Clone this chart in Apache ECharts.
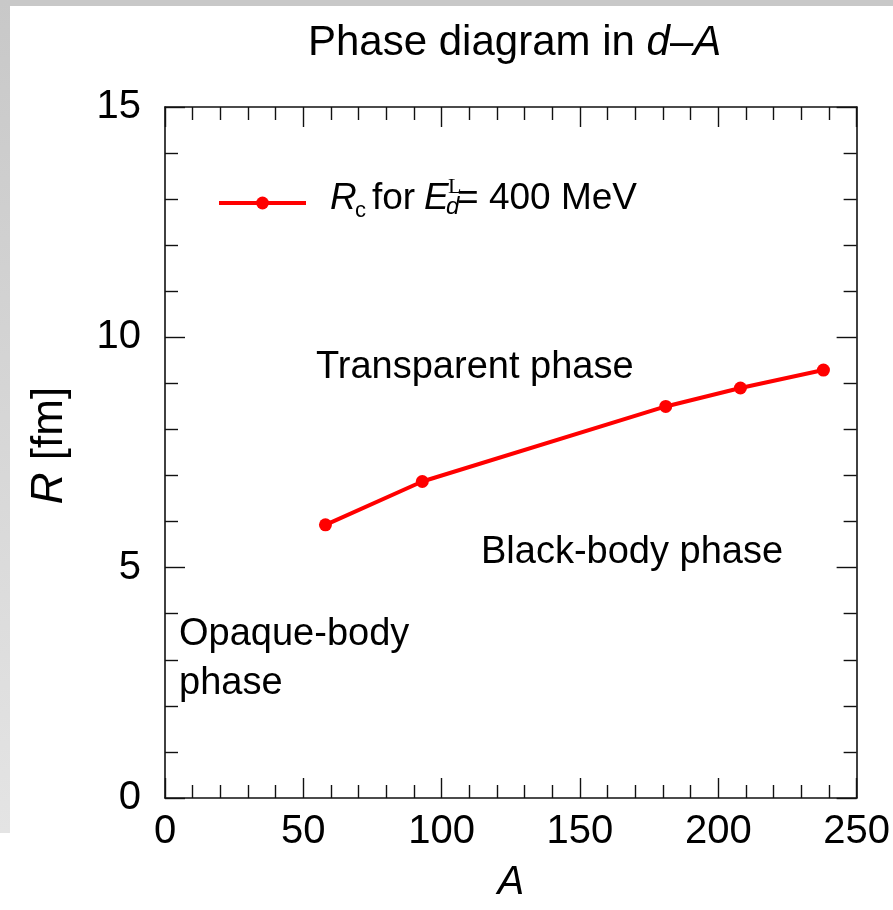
<!DOCTYPE html>
<html><head><meta charset="utf-8">
<script src="https://cdn.jsdelivr.net/npm/echarts@6/dist/echarts.min.js"></script>
<style>html,body{margin:0;padding:0;background:#fff}#c{width:893px;height:910px}</style>
</head><body><div id="c"></div>
<script>
const massNumbers = [58, 93, 181, 208, 238];
const criticalRadius = [5.93, 6.87, 8.5, 8.9, 9.29];
const xRange = [0, 250];
const yRange = [0, 15];
const seriesName = 'Rc for E_d^L = 400 MeV';

const FONT = '"Liberation Sans", Arial, Helvetica, sans-serif';
const chart = echarts.init(document.getElementById('c'), null, {renderer: 'canvas'});

const axisCommon = {
  type: 'value',
  axisLine: {show: true, onZero: false, lineStyle: {color: '#111', width: 1.6}},
  axisTick: {show: true, inside: true, length: 20, lineStyle: {color: '#111', width: 1.4}},
  minorTick: {show: true, splitNumber: 5, length: 13, lineStyle: {color: '#111', width: 1.4}},
  splitLine: {show: false},
  minorSplitLine: {show: false}
};
const labelStyle = {color: '#000', fontFamily: FONT, fontSize: 40};

const option = {
  backgroundColor: '#fff',
  animation: false,
  title: {
    text: '{n|Phase diagram in }{i|d}{n|–}{i|A}',
    left: 308, top: 22, padding: 0,
    textStyle: {
      fontWeight: 'normal',
      rich: {
        n: {fontFamily: FONT, fontSize: 42, color: '#000', fontWeight: 'normal'},
        i: {fontFamily: FONT, fontSize: 42, color: '#000', fontStyle: 'italic', fontWeight: 'normal'}
      }
    }
  },
  grid: {left: 165, right: 36, top: 107, bottom: 112, containLabel: false},
  legend: {
    show: true, left: 212, top: 190, itemWidth: 87, itemHeight: 16,
    formatter: function () { return ''; },
    lineStyle: {width: 4, color: '#ff0000'},
    data: [seriesName], selectedMode: false
  },
  xAxis: [
    Object.assign({}, axisCommon, {
      min: xRange[0], max: xRange[1], interval: 50, position: 'bottom',
      axisLabel: Object.assign({margin: 14}, labelStyle),
      name: 'A', nameLocation: 'middle', nameGap: 65,
      nameTextStyle: {fontFamily: FONT, fontSize: 40, color: '#000', fontStyle: 'italic'}
    }),
    Object.assign({}, axisCommon, {
      min: xRange[0], max: xRange[1], interval: 50, position: 'top',
      axisLabel: {show: false}
    })
  ],
  yAxis: [
    Object.assign({}, axisCommon, {
      min: yRange[0], max: yRange[1], interval: 5, position: 'left',
      axisLabel: Object.assign({margin: 24}, labelStyle),
      name: '{i|R} [fm]', nameLocation: 'middle', nameGap: 93, nameRotate: 90,
      nameTextStyle: {
        fontFamily: FONT, fontSize: 44, color: '#000', padding: [0, 0, 0, 14],
        rich: {i: {fontFamily: FONT, fontSize: 44, color: '#000', fontStyle: 'italic'}}
      }
    }),
    Object.assign({}, axisCommon, {
      min: yRange[0], max: yRange[1], interval: 5, position: 'right',
      axisLabel: {show: false}
    })
  ],
  series: [{
    name: seriesName,
    type: 'line',
    xAxisIndex: 0, yAxisIndex: 0,
    data: massNumbers.map((a, i) => [a, criticalRadius[i]]),
    symbol: 'circle', symbolSize: 13,
    lineStyle: {color: '#ff0000', width: 4},
    itemStyle: {color: '#ff0000'},
    z: 5
  }],
  graphic: [
    {type: 'rect', shape: {x: 0, y: 0, width: 893, height: 6}, style: {fill: '#c8c8c8'}, silent: true, z: -10},
    {type: 'rect', shape: {x: 0, y: 0, width: 10, height: 833}, silent: true, z: -10,
      style: {fill: new echarts.graphic.LinearGradient(0, 0, 0, 1, [
        {offset: 0, color: '#c8c8c8'}, {offset: 1, color: '#e4e4e4'}])}},
    // legend label
    {type: 'text', left: 330, top: 180, style: {text: 'R', font: 'italic 37px ' + FONT, fill: '#000'}},
    {type: 'text', left: 355, top: 200, style: {text: 'c', font: '22px ' + FONT, fill: '#000'}},
    {type: 'text', left: 372, top: 180, style: {text: 'for', font: '37px ' + FONT, fill: '#000'}},
    {type: 'text', left: 424, top: 180, style: {text: 'E', font: 'italic 37px ' + FONT, fill: '#000'}},
    {type: 'text', left: 448, top: 176, style: {text: 'L', font: '22px "Liberation Serif", serif', fill: '#000'}},
    {type: 'text', left: 446, top: 195, style: {text: 'd', font: 'italic 24px ' + FONT, fill: '#000'}},
    {type: 'text', left: 457, top: 180, style: {text: '= 400 MeV', font: '37px ' + FONT, fill: '#000'}},
    // phase labels
    {type: 'text', left: 316, top: 349, style: {text: 'Transparent phase', font: '38px ' + FONT, fill: '#000'}},
    {type: 'text', left: 481, top: 534, style: {text: 'Black-body phase', font: '38px ' + FONT, fill: '#000'}},
    {type: 'text', left: 179, top: 616, style: {text: 'Opaque-body', font: '38px ' + FONT, fill: '#000'}},
    {type: 'text', left: 179, top: 665, style: {text: 'phase', font: '38px ' + FONT, fill: '#000'}}
  ]
};
chart.setOption(option);
</script>
</body></html>
